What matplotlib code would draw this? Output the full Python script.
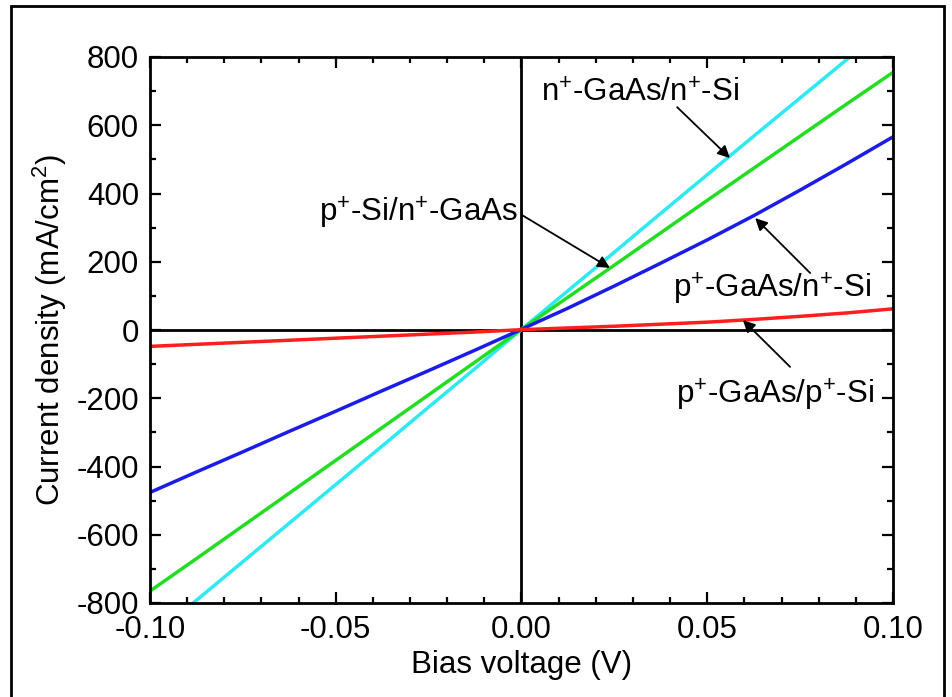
import numpy as np
import matplotlib.pyplot as plt
from matplotlib.patches import Rectangle
from matplotlib.ticker import MultipleLocator

plt.rcParams['font.family'] = ['Liberation Sans', 'DejaVu Sans']
plt.rcParams['mathtext.fontset'] = 'custom'
plt.rcParams['mathtext.rm'] = 'Liberation Sans'
plt.rcParams['mathtext.it'] = 'Liberation Sans'
plt.rcParams['mathtext.default'] = 'regular'

# bias voltage (V) and current density (mA/cm2)
voltage = [-0.1, -0.0875, -0.075, -0.0625, -0.05, -0.0375, -0.025, -0.0125, 0.0,
           0.0125, 0.025, 0.0375, 0.05, 0.0625, 0.075, 0.0875, 0.1]
j_pGaAs_pSi = [-48, -42, -36, -30, -24, -18, -12, -6, 1,
               6, 11, 17, 23, 31, 40, 50, 62]
j_pGaAs_nSi = [-476, -416, -357, -297, -238, -178, -119, -59, 2,
               64, 129, 196, 264, 335, 410, 487, 566]
j_pSi_nGaAs = [-765, -670, -574, -478, -382, -286, -190, -94, 2,
               96, 190, 285, 380, 474, 568, 662, 755]
j_nGaAs_nSi = [-905, -792, -679, -566, -453, -340, -226, -113, 2,
               115, 228, 342, 455, 568, 680, 792, 905]

series = [j_nGaAs_nSi, j_pSi_nGaAs, j_pGaAs_nSi, j_pGaAs_pSi]
colores = ['#2ee8f2', '#22dd22', '#1c1ce8', '#ff1e1e']

xticks = [-0.10, -0.05, 0.0, 0.05, 0.10]
xlabels = ['-0.10', '-0.05', '0.00', '0.05', '0.10']
yticks = [-800, -600, -400, -200, 0, 200, 400, 600, 800]

fig = plt.figure(figsize=(9.53, 6.97), dpi=100)
ax = fig.add_axes([150/953, 1-603/697, 743/953, 546/697])

# marco exterior
fig.patches.append(Rectangle((11/953, -0.05), 933/953, 1-6/697+0.05, transform=fig.transFigure,
                             fill=False, lw=2, ec='black'))

ax.axhline(0, color='black', lw=2, zorder=1)
ax.axvline(0, color='black', lw=2, zorder=1)

for s, c in zip(series, colores):
    ax.plot(voltage, s, color=c, lw=2.5, zorder=2)

ax.set_xlim(-0.10, 0.10)
ax.set_ylim(-800, 800)
ax.set_xticks(xticks)
ax.set_xticklabels(xlabels)
ax.set_yticks(yticks)
ax.set_yticklabels([str(v) for v in yticks])
ax.xaxis.set_minor_locator(MultipleLocator(0.01))
ax.yaxis.set_minor_locator(MultipleLocator(100))
ax.tick_params(which='both', direction='in', top=True, right=True, width=1.6, labelsize=22.5)
ax.tick_params(which='major', length=8)
ax.tick_params(which='minor', length=4.5)
ax.tick_params(axis='y', pad=8)
ax.tick_params(axis='x', pad=9)
for sp in ax.spines.values():
    sp.set_linewidth(2)

ax.set_xlabel('Bias voltage (V)', fontsize=22.5, labelpad=3)
ax.set_ylabel('Current density (mA/cm$^2$)', fontsize=22.5, labelpad=5)

# etiquetas y flechas
etiquetas = ['n$^{+}$-GaAs/n$^{+}$-Si', 'p$^{+}$-Si/n$^{+}$-GaAs',
             'p$^{+}$-GaAs/n$^{+}$-Si', 'p$^{+}$-GaAs/p$^{+}$-Si']
pos_texto = [(0.0319, 694), (-0.0009, 343), (0.0674, 120), (0.0682, -190)]
alineacion = ['center', 'right', 'center', 'center']
inicio = [(0.0419, 653), (0.0001, 337), (0.0777, 167), (0.0723, -108)]
punta = [(0.0561, 504), (0.0238, 182), (0.0629, 328), (0.0596, 29)]

for txt, p, ha, a, b in zip(etiquetas, pos_texto, alineacion, inicio, punta):
    ax.text(p[0], p[1], txt, ha=ha, va='center', fontsize=22.5)
    ax.annotate('', xy=b, xytext=a,
                arrowprops=dict(arrowstyle='-|>', color='black', lw=1.3,
                                mutation_scale=18, shrinkA=0, shrinkB=0))

fig.savefig('out.png', dpi=100)
